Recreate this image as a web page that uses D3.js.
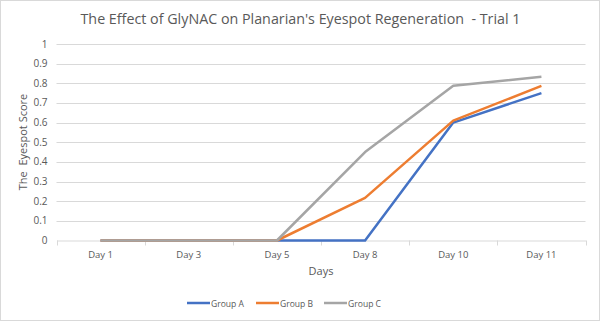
<!DOCTYPE html>
<html>
<head>
<meta charset="utf-8">
<script src="https://cdn.jsdelivr.net/npm/d3@7"></script>
<style>
  body { margin: 0; background: #fff; }
  text { font-family: "Open Sans", "Noto Sans", sans-serif; fill: #595959; }
</style>
</head>
<body>
<div id="chart"></div>
<script>
var w = 600,
h = 321;

//Data
var days = ["Day 1", "Day 3", "Day 5", "Day 8", "Day 10", "Day 11"];
var groupA = [0, 0, 0, 0, 0.6, 0.75];
var groupB = [0, 0, 0, 0.217, 0.61, 0.787];
var groupC = [0, 0, 0, 0.45, 0.787, 0.833];
var yTicks = [0, 0.1, 0.2, 0.3, 0.4, 0.5, 0.6, 0.7, 0.8, 0.9, 1];
var seriesNames = ["Group A", "Group B", "Group C"];
var colors = ["#4472C4", "#ED7D31", "#A5A5A5"];

var series = [groupA, groupB, groupC].map(function(vals, i){
	return { name: seriesNames[i], color: colors[i], values: vals };
});

var svg = d3.select("#chart")
.append("svg")
.attr("width", w)
.attr("height", h);

//chart border
svg.append("rect")
.attr("x", 0.5).attr("y", 0.5)
.attr("width", w - 1).attr("height", h - 1)
.attr("fill", "#fff")
.attr("stroke", "#d9d9d9");

var x = d3.scaleBand().domain(days).range([56.5, 585.5]);
var y = d3.scaleLinear().domain([0, 1]).range([240.5, 44]);

//Gridlines
svg.append("g")
.selectAll("line")
.data(yTicks.slice(1))
.enter()
.append("line")
.attr("x1", 56.5).attr("x2", 585.5)
.attr("y1", function(d){ return Math.round(y(d)) + 0.5; })
.attr("y2", function(d){ return Math.round(y(d)) + 0.5; })
.attr("stroke", "#d9d9d9")
.attr("stroke-width", 1);

//Y axis labels
svg.append("g")
.selectAll("text")
.data(yTicks)
.enter()
.append("text")
.attr("x", 47.5)
.attr("y", function(d){ return y(d) + 3.5; })
.attr("text-anchor", "end")
.attr("font-size", "10px")
.text(function(d){ return d; });

//X axis
var xAxis = svg.append("g")
.attr("transform", "translate(0,240.5)")
.call(d3.axisBottom(x).tickSize(0).tickPadding(11));
xAxis.select(".domain").attr("stroke", "#d9d9d9");
xAxis.selectAll("text")
.attr("font-size", "9.5px")
.attr("font-family", "Open Sans")
.attr("fill", "#595959");

//category boundary ticks
svg.append("g")
.selectAll("line")
.data(days.concat(["end"]))
.enter()
.append("line")
.attr("x1", function(d, i){ return Math.round(56.5 + i * x.step()) + 0.5; })
.attr("x2", function(d, i){ return Math.round(56.5 + i * x.step()) + 0.5; })
.attr("y1", 240.5).attr("y2", 245.5)
.attr("stroke", "#d9d9d9");

//Lines
var line = d3.line()
.x(function(d, i){ return x(days[i]) + x.bandwidth() / 2; })
.y(function(d){ return y(d); });

svg.append("g")
.selectAll("path")
.data(series)
.enter()
.append("path")
.attr("d", function(d){ return line(d.values); })
.attr("fill", "none")
.attr("stroke", function(d){ return d.color; })
.attr("stroke-width", 2.5)
.attr("stroke-linejoin", "round");

//Title
svg.append("text")
.attr("x", 300.5)
.attr("y", 24)
.attr("text-anchor", "middle")
.attr("font-size", "15px")
.attr("textLength", 440)
.attr("lengthAdjust", "spacingAndGlyphs")
.attr("xml:space", "preserve")
.text("The Effect of GlyNAC on Planarian's Eyespot Regeneration  - Trial 1");

//Axis titles
svg.append("text")
.attr("x", 321)
.attr("y", 275)
.attr("text-anchor", "middle")
.attr("font-size", "11px")
.text("Days");

svg.append("text")
.attr("transform", "translate(27,142) rotate(-90)")
.attr("text-anchor", "middle")
.attr("font-size", "11px")
.attr("xml:space", "preserve")
.text("The  Eyespot Score");

//Legend
var legendX = [187, 256, 324];
var legend = svg.append("g")
.selectAll("g")
.data(series)
.enter()
.append("g")
.attr("transform", function(d, i){ return "translate(" + legendX[i] + ",303)"; });

legend.append("line")
.attr("x1", 0).attr("x2", 23)
.attr("y1", 0).attr("y2", 0)
.attr("stroke", function(d){ return d.color; })
.attr("stroke-width", 2.5);

legend.append("text")
.attr("x", 24)
.attr("y", 3.5)
.attr("font-size", "9.5px")
.attr("textLength", 33)
.attr("lengthAdjust", "spacingAndGlyphs")
.text(function(d){ return d.name; });
</script>
</body>
</html>
